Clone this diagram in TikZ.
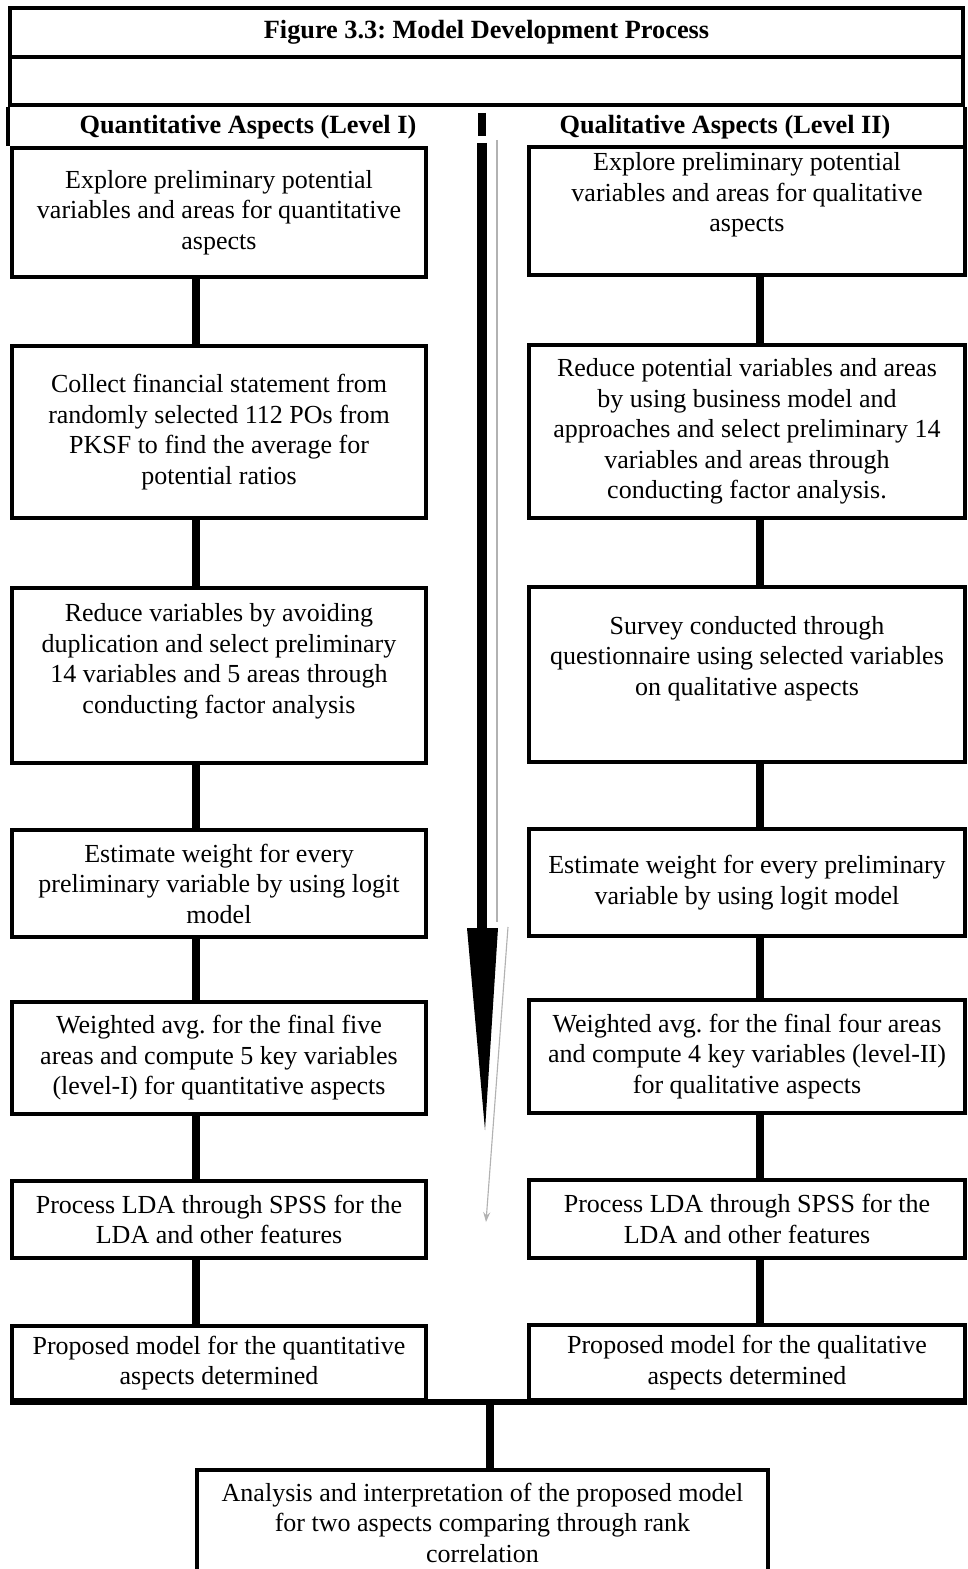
\documentclass[tikz,border=0pt]{standalone}
\usepackage{fontspec}
\setmainfont{Liberation Serif}
\frenchspacing
\usetikzlibrary{arrows.meta}
\tikzset{stage/.style={draw, line width=2.6pt, align=center, inner sep=2pt,
    font=\fontsize{18.5}{21.7}\selectfont},
  titlebox/.style={draw, line width=2.6pt, minimum width=23.825cm, inner sep=0pt},
  heading/.style={font=\bfseries\fontsize{18.7}{22}\selectfont},
  link/.style={line width=5.5pt},
  rail/.style={line width=4pt},
  trace/.style={gray!60, line width=0.8pt}}

\begin{document}
\begin{tikzpicture}
		[x=0.025cm, y=-0.025cm]
		\useasboundingbox (0,0) rectangle (967,1569);
		% title and heading rows
		\node[titlebox, minimum height=1.225cm, font=\bfseries\fontsize{18.7}{22}\selectfont] (title) at (486.5,32.5){Figure 3.3: Model Development Process};
		\node[titlebox, minimum height=1.2cm] (band) at (486.5,81){};
		\node[heading] (hq) at (248,127){Quantitative Aspects (Level I)};
		\node[heading] (hl) at (725,127){Qualitative Aspects (Level II)};
		% quantitative column
		\node[stage, minimum width=10.35cm, minimum height=3.225cm] (q1) at (219,212.5){Explore preliminary potential\\variables and areas for quantitative\\aspects};
		\node[stage, minimum width=10.35cm, minimum height=4.3cm] (q2) at (219,432){Collect financial statement from\\randomly selected 112 POs from\\PKSF to find the average for\\potential ratios};
		\node[stage, minimum width=10.35cm, minimum height=4.375cm, text depth=24pt] (q3) at (219,675.5){Reduce variables by avoiding\\duplication and select preliminary\\14 variables and 5 areas through\\conducting factor analysis};
		\node[stage, minimum width=10.35cm, minimum height=2.675cm] (q4) at (219,883.5){Estimate weight for every\\preliminary variable by using logit\\model};
		\node[stage, minimum width=10.35cm, minimum height=2.8cm] (q5) at (219,1058){Weighted avg. for the final five\\areas and compute 5 key variables\\(level-I) for quantitative aspects};
		\node[stage, minimum width=10.35cm, minimum height=1.925cm] (q6) at (219,1219.5){Process LDA through SPSS for the\\LDA and other features};
		\node[stage, minimum width=10.35cm, minimum height=1.85cm] (q7) at (219,1363){Proposed model for the quantitative\\aspects determined};
		% qualitative column
		\node[stage, minimum width=10.9cm, minimum height=3.2cm, text depth=27pt] (l1) at (747,211){Explore preliminary potential\\variables and areas for qualitative\\aspects};
		\node[stage, minimum width=10.9cm, minimum height=4.325cm] (l2) at (747,431.5){Reduce potential variables and areas\\by using business model and\\approaches and select preliminary 14\\variables and areas through\\conducting factor analysis.};
		\node[stage, minimum width=10.9cm, minimum height=4.375cm, text depth=27pt] (l3) at (747,674.5){Survey conducted through\\questionnaire using selected variables\\on qualitative aspects};
		\node[stage, minimum width=10.9cm, minimum height=2.675cm] (l4) at (747,882.5){Estimate weight for every preliminary\\variable by using logit model};
		\node[stage, minimum width=10.9cm, minimum height=2.825cm] (l5) at (747,1056.5){Weighted avg. for the final four areas\\and compute 4 key variables (level-II)\\for qualitative aspects};
		\node[stage, minimum width=10.9cm, minimum height=1.95cm] (l6) at (747,1219){Process LDA through SPSS for the\\LDA and other features};
		\node[stage, minimum width=10.9cm, minimum height=1.875cm] (l7) at (747,1362.5){Proposed model for the qualitative\\aspects determined};
		% joint result
		\node[stage, minimum width=14.275cm, minimum height=2.625cm] (fin) at (482.5,1522.5){Analysis and interpretation of the proposed model\\for two aspects comparing through rank\\correlation};
		% lanes of the connectors
		\coordinate (qx) at (196,0);
		\coordinate (lx) at (760,0);
		\coordinate (mx) at (490,0);
		% side borders of the heading row
		\draw[line width=2.6pt] (band.south west) -- (band.south west |- q1.north);
		\draw[line width=2.6pt] (band.south east) -- (band.south east |- l1.north);
		% central arrow
		\coordinate (bartop) at (482,113);
		\coordinate (barbot) at (482,136);
		\coordinate (shafttop) at (482,143);
		\coordinate (shaftbot) at (482,928);
		\coordinate (tip) at (485,1130);
		\draw[line width=5.5pt] (bartop) -- (barbot);
		\draw[line width=7pt] (shafttop) -- (shaftbot);
		\fill ([xshift=-0.375cm]shaftbot) -- ([xshift=0.4cm]shaftbot) -- (tip) -- cycle;
		\coordinate (tra) at (497,140);
		\coordinate (trb) at (497,922);
		\coordinate (trc) at (508,927);
		\coordinate (trd) at (486,1222);
		\draw[trace] (tra) -- (trb);
		\draw[trace, -{Stealth[length=7pt, width=5pt]}] (trc) -- (trd);
		% quantitative links
		\draw[link] (q1.south -| qx) -- (q2.north -| qx);
		\draw[link] (q2.south -| qx) -- (q3.north -| qx);
		\draw[link] (q3.south -| qx) -- (q4.north -| qx);
		\draw[link] (q4.south -| qx) -- (q5.north -| qx);
		\draw[link] (q5.south -| qx) -- (q6.north -| qx);
		\draw[link] (q6.south -| qx) -- (q7.north -| qx);
		% qualitative links
		\draw[link] (l1.south -| lx) -- (l2.north -| lx);
		\draw[link] (l2.south -| lx) -- (l3.north -| lx);
		\draw[link] (l3.south -| lx) -- (l4.north -| lx);
		\draw[link] (l4.south -| lx) -- (l5.north -| lx);
		\draw[link] (l5.south -| lx) -- (l6.north -| lx);
		\draw[link] (l6.south -| lx) -- (l7.north -| lx);
		% bottom rail and final link
		\draw[rail] (q7.south west) -- (l7.south east);
		\draw[link] (q7.south -| mx) -- (fin.north -| mx);
		\end{tikzpicture}
\end{document}
